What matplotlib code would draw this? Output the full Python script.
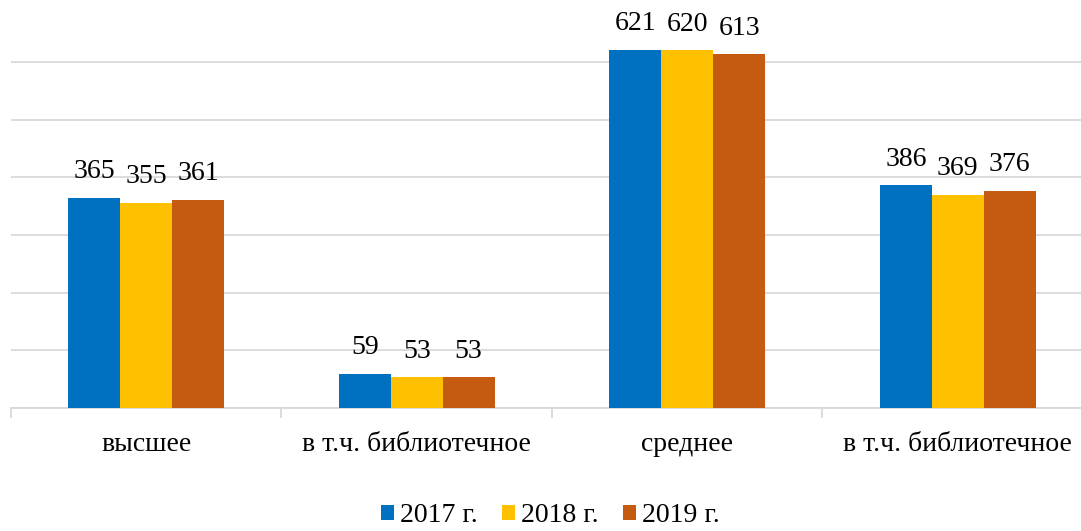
import numpy as np
import matplotlib
matplotlib.use("Agg")
import matplotlib.pyplot as plt

categories = ["высшее", "в т.ч. библиотечное", "среднее", "в т.ч. библиотечное"]
series_names = ["2017 г.", "2018 г.", "2019 г."]
values_2017 = [365, 59, 621, 386]
values_2018 = [355, 53, 620, 369]
values_2019 = [361, 53, 613, 376]
colors = ["#0070C0", "#FFC000", "#C55A11"]

plt.rcParams['font.family'] = ['Liberation Serif', 'DejaVu Serif']

fig = plt.figure(figsize=(10.81, 5.31), dpi=100)
# plot area runs a bit past the right edge, as in the cropped original
ax = fig.add_axes([11 / 1081, 1 - 408 / 531, 1082 / 1081, 408 / 531])

x = np.arange(len(categories))
width = 0.192
all_values = [values_2017, values_2018, values_2019]
for i, (vals, name, col) in enumerate(zip(all_values, series_names, colors)):
    pos = x + (i - 1) * width
    bars = ax.bar(pos, vals, width, color=col, label=name, zorder=3)
    for b, v in zip(bars, vals):
        ax.annotate(str(v), (b.get_x() + b.get_width() / 2, v),
                    xytext=(0, 10), textcoords="offset points",
                    ha="center", va="bottom", fontsize=20)

ax.set_xlim(-0.5, len(categories) - 0.5)
ax.set_ylim(0, 707.5)
ax.set_yticks(range(0, 700, 100))
ax.yaxis.grid(True, color="#D9D9D9", linewidth=1.3, zorder=0)
ax.tick_params(axis="y", left=False, labelleft=False)

ax.set_xticks(x)
ax.set_xticklabels(categories, fontsize=20)
ax.tick_params(axis="x", length=0, pad=17)
ax.set_xticks(np.arange(-0.5, len(categories), 1), minor=True)
ax.tick_params(axis="x", which="minor", length=7, color="#D9D9D9", width=1.3)

for side in ["top", "right", "left"]:
    ax.spines[side].set_visible(False)
ax.spines["bottom"].set_color("#D9D9D9")
ax.spines["bottom"].set_linewidth(1.3)

fig.legend(loc="center", bbox_to_anchor=(0.509, 15 / 531), ncol=3, frameon=False,
           fontsize=20, handlelength=0.47, handleheight=0.47, handletextpad=0.22,
           columnspacing=0.86, borderpad=0)

fig.savefig("out.png", dpi=100)
